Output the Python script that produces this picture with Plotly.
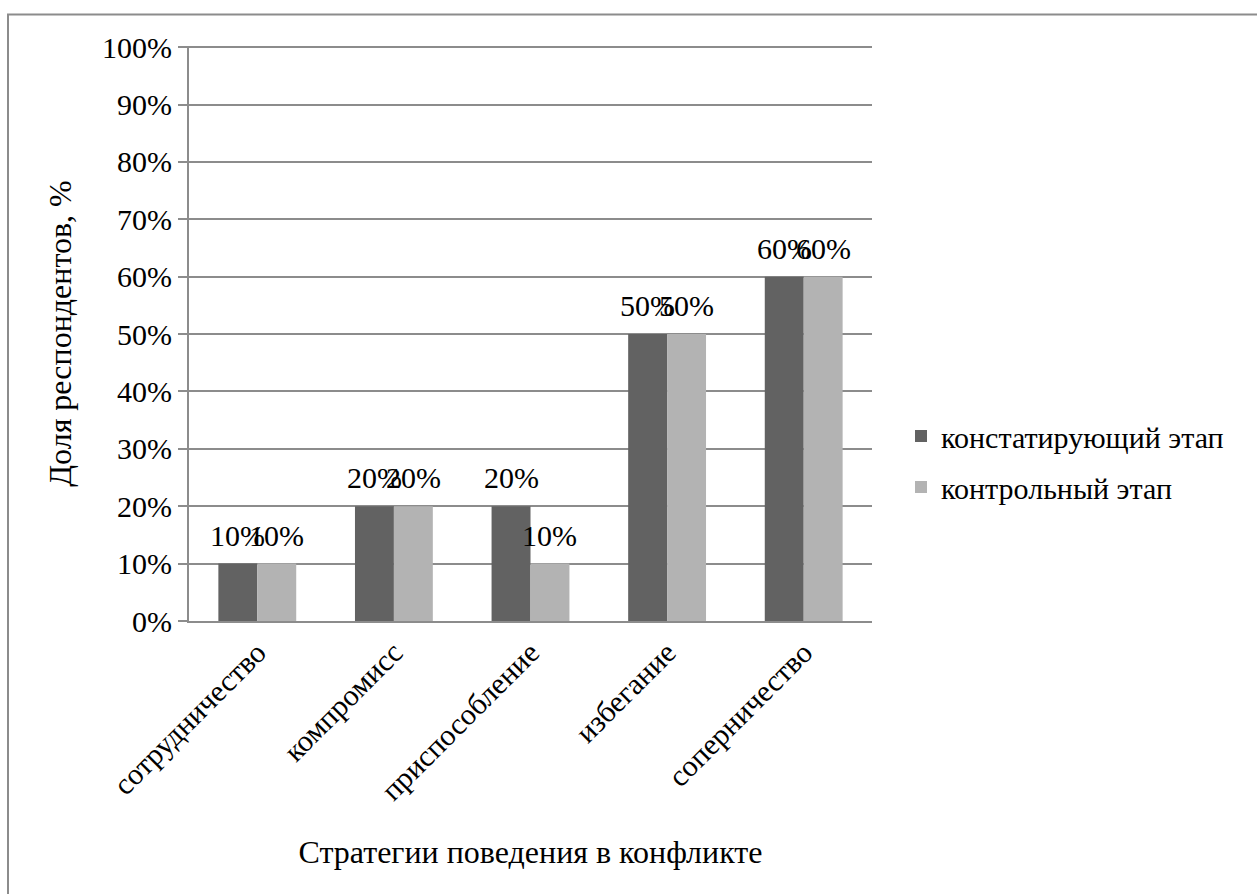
import plotly.graph_objects as go

# Conflict behaviour strategies and the share of respondents at each stage
categories = ["сотрудничество", "компромисс", "приспособление", "избегание", "соперничество"]
stage_ascertaining = [0.10, 0.20, 0.20, 0.50, 0.60]
stage_control = [0.10, 0.20, 0.10, 0.50, 0.60]
series_names = ["констатирующий этап", "контрольный этап"]

W, H = 1257, 894
L, R, T, B = 189, 872, 46, 621  # plot area in pixels
FONT = "Times New Roman"
FS = 30
GRID = "#8c8c8c"
BARGAP = 0.43

fig = go.Figure()
pw, ph = R - L, B - T
bar_px = pw / len(categories) * (1 - BARGAP) / 2  # width of one bar in pixels

series = [
    (series_names[0], stage_ascertaining, "#626262", -0.5),
    (series_names[1], stage_control, "#b3b3b3", 0.5),
]
for name, vals, color, side in series:
    fig.add_trace(go.Bar(
        x=categories, y=vals, name=name, legendgroup=name,
        marker=dict(color=color, line=dict(width=0)),
    ))
    # value labels above each bar
    for c, v in zip(categories, vals):
        fig.add_annotation(x=c, y=v, text=f"{v:.0%}", showarrow=False,
                           xanchor="center", yanchor="bottom",
                           xshift=side * bar_px, yshift=10,
                           font=dict(family=FONT, size=FS, color="black"))

def px_x(p):
    return (p - L) / pw
def px_y(p):
    return (B - p) / ph

fig.add_shape(type="rect", xref="paper", yref="paper",
              x0=px_x(8), x1=px_x(W + 10), y0=px_y(H + 10), y1=px_y(14.5),
              line=dict(color=GRID, width=2), fillcolor="rgba(0,0,0,0)", layer="below")

fig.update_layout(
    width=W, height=H,
    margin=dict(l=L, r=W - R, t=T, b=H - B, pad=0),
    paper_bgcolor="white", plot_bgcolor="white",
    barmode="group", bargap=BARGAP, bargroupgap=0,
    font=dict(family=FONT, size=FS, color="black"),
    showlegend=True,
    legend=dict(x=px_x(901), y=px_y(410), xanchor="left", yanchor="top",
                font=dict(family=FONT, size=FS), tracegroupgap=9,
                bgcolor="rgba(0,0,0,0)", itemwidth=30),
    xaxis=dict(tickangle=-45, showline=True, linecolor=GRID, linewidth=2,
               ticks="", showgrid=False,
               tickfont=dict(family=FONT, size=FS),
               title=dict(text="Стратегии поведения в конфликте",
                          font=dict(family=FONT, size=32), standoff=35)),
    yaxis=dict(range=[0, 1.002], tickvals=[i / 10 for i in range(11)], tickformat=".0%",
               showgrid=True, gridcolor=GRID, gridwidth=1.5,
               showline=True, linecolor=GRID, linewidth=2,
               ticks="outside", ticklen=9, tickcolor=GRID, tickwidth=1.5,
               zeroline=False,
               tickfont=dict(family=FONT, size=FS),
               title=dict(text="Доля респондентов, %",
                          font=dict(family=FONT, size=32), standoff=21)),
)

fig.write_html("out.html")
